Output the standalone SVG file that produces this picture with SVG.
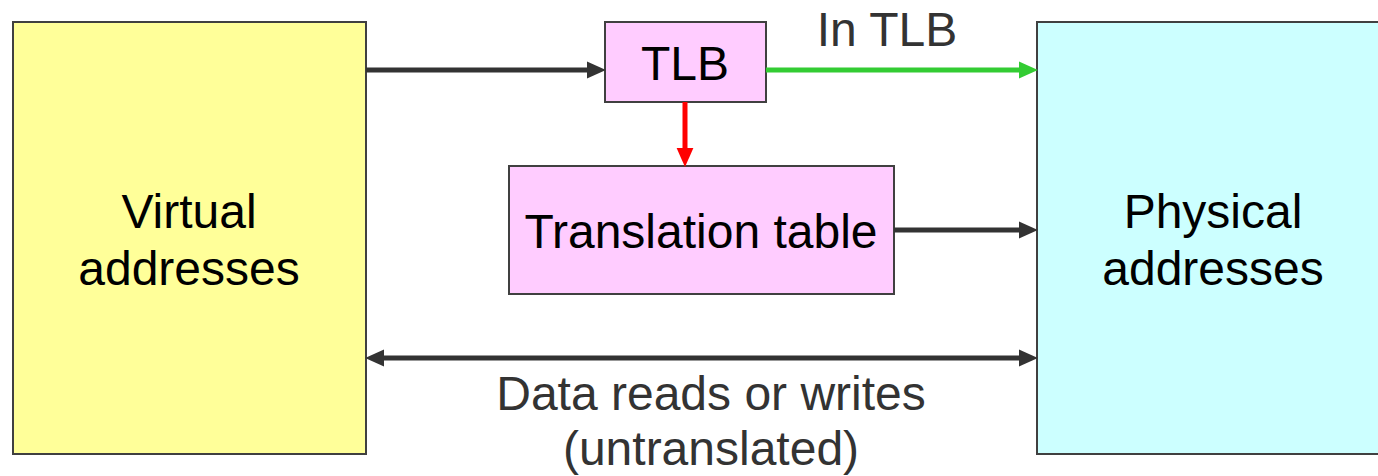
<svg xmlns="http://www.w3.org/2000/svg" width="1378" height="476" viewBox="0 0 1378 476">
  <style>
    .box { stroke: #404040; stroke-width: 2; }
    .lbl { font-family: "Liberation Sans", Arial, sans-serif; font-size: 48px; fill: #000; text-anchor: middle; }
    .note { font-family: "Liberation Sans", Arial, sans-serif; font-size: 48px; fill: #333; text-anchor: middle; }
    .wire { fill: none; stroke-width: 5; stroke-linecap: butt; }
  </style>
  <defs>
    <marker id="head-dark" markerUnits="userSpaceOnUse" markerWidth="20" markerHeight="20" viewBox="-1 -9 19 18" refX="0" refY="0" orient="auto-start-reverse">
      <path d="M-1,-8 L17,0 L-1,8 z" fill="#333"/>
    </marker>
    <marker id="head-green" markerUnits="userSpaceOnUse" markerWidth="20" markerHeight="20" viewBox="-1 -9 19 18" refX="0" refY="0" orient="auto">
      <path d="M-1,-8 L17,0 L-1,8 z" fill="#33CC33"/>
    </marker>
    <marker id="head-red" markerUnits="userSpaceOnUse" markerWidth="20" markerHeight="20" viewBox="-1 -9 19 18" refX="0" refY="0" orient="auto">
      <path d="M-1,-8 L17,0 L-1,8 z" fill="#FF0000"/>
    </marker>
  </defs>

  <rect width="1378" height="476" fill="#fff"/>

  <g id="virtual">
    <rect class="box" x="13" y="22" width="353" height="432" fill="#FFFF99"/>
    <text class="lbl" x="189" y="228">Virtual</text>
    <text class="lbl" x="189" y="285">addresses</text>
  </g>

  <g id="physical">
    <rect class="box" x="1037" y="22" width="360" height="432" fill="#CCFFFF"/>
    <text class="lbl" x="1213" y="228">Physical</text>
    <text class="lbl" x="1213" y="285">addresses</text>
  </g>

  <g id="tlb">
    <rect class="box" x="605" y="22" width="161" height="80" fill="#FFCCFF"/>
    <text class="lbl" x="685" y="80">TLB</text>
  </g>

  <g id="translation-table">
    <rect class="box" x="509" y="166" width="385" height="128" fill="#FFCCFF"/>
    <text class="lbl" x="701" y="248">Translation table</text>
  </g>

  <g id="connectors">
    <line class="wire" x1="366" y1="70" x2="588" y2="70" stroke="#333" marker-end="url(#head-dark)"/>
    <line class="wire" x1="766" y1="70" x2="1020" y2="70" stroke="#33CC33" marker-end="url(#head-green)"/>
    <line class="wire" x1="685" y1="102" x2="685" y2="149" stroke="#FF0000" marker-end="url(#head-red)"/>
    <line class="wire" x1="894" y1="230" x2="1020" y2="230" stroke="#333" marker-end="url(#head-dark)"/>
    <line class="wire" x1="383" y1="358" x2="1020" y2="358" stroke="#333" marker-start="url(#head-dark)" marker-end="url(#head-dark)"/>
    <text class="note" x="887" y="46">In TLB</text>
    <text class="note" x="711" y="410">Data reads or writes</text>
    <text class="note" x="711" y="465">(untranslated)</text>
  </g>
</svg>
